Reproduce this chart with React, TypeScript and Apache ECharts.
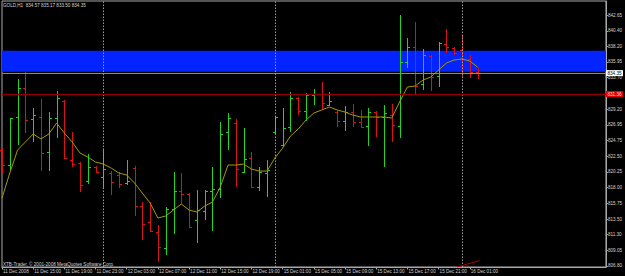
import React, { useEffect, useRef } from "react";
import * as echarts from "echarts";

// ---- Data (GOLD, H1) ----
const opens = [
  823.36, 821.22, 828.08, 832.22, 827.79, 828.08, 823.08, 827.94, 830.36, 821.94,
  821.51, 818.94, 820.94, 819.51, 820.08, 819.79, 818.65, 820.79, 815.36, 813.08,
  811.65, 809.36, 814.94, 817.51, 817.08, 813.36, 814.65, 817.51, 817.79, 825.94,
  827.22, 820.22, 822.22, 818.08, 820.08, 825.94, 824.08, 826.65, 830.79, 828.94,
  831.22, 831.36, 829.79, 828.79, 827.51, 828.79, 827.36, 826.79, 828.79, 828.08,
  828.36, 826.79, 835.94, 838.08, 832.79, 836.79, 833.94, 838.51, 837.94, 837.65,
  836.36, 834.57,
];
const highs = [
  823.79, 827.94, 833.51, 834.51, 829.36, 830.65, 828.79, 831.79, 830.51, 825.94,
  821.65, 822.79, 821.08, 823.51, 820.36, 820.22, 821.94, 821.08, 815.94, 815.94,
  812.65, 815.22, 820.22, 820.08, 817.22, 817.65, 817.65, 820.94, 827.36, 828.65,
  827.79, 826.51, 823.08, 820.94, 821.94, 828.22, 829.36, 831.65, 830.94, 831.51,
  832.08, 833.08, 831.65, 828.94, 829.65, 829.94, 829.08, 829.36, 828.94, 829.79,
  829.94, 842.65, 839.36, 841.65, 837.79, 836.94, 838.79, 840.65, 838.08, 839.65,
  836.94, 835.17,
];
const lows = [
  820.08, 820.51, 824.08, 825.79, 824.51, 820.36, 820.36, 825.08, 822.08, 820.94,
  817.36, 818.51, 820.08, 817.94, 816.94, 817.94, 818.36, 813.94, 810.51, 811.65,
  807.36, 808.36, 811.36, 815.65, 812.22, 810.08, 813.36, 811.79, 816.51, 823.36,
  818.08, 820.08, 817.94, 817.51, 816.65, 825.51, 823.79, 825.94, 828.36, 827.51,
  829.79, 829.22, 829.65, 826.65, 826.08, 826.65, 826.51, 823.94, 825.22, 820.94,
  824.51, 825.08, 835.08, 831.22, 831.94, 831.79, 832.36, 837.22, 836.94, 833.79,
  833.65, 833.5,
];
const closes = [
  821.22, 827.94, 832.22, 827.65, 828.36, 822.94, 827.94, 830.79, 822.22, 821.36,
  818.36, 820.94, 820.22, 820.65, 818.79, 818.51, 818.94, 815.36, 812.79, 811.79,
  809.51, 814.94, 817.51, 817.08, 812.36, 814.79, 817.51, 817.79, 825.65, 827.94,
  820.65, 822.08, 818.08, 820.22, 820.51, 828.08, 826.51, 830.79, 828.94, 831.22,
  831.36, 830.08, 830.36, 827.51, 828.79, 827.36, 826.65, 828.79, 828.08, 828.65,
  826.94, 835.94, 838.08, 832.51, 836.94, 833.79, 838.65, 838.08, 837.22, 836.36,
  834.51, 834.35,
];
const maValues = [
  816.51, 820.08, 823.36, 824.51, 825.65, 824.94, 825.65, 827.22, 825.79, 824.51,
  822.94, 822.36, 821.65, 821.36, 820.79, 820.08, 819.79, 818.65, 817.22, 815.79,
  813.65, 813.94, 814.79, 815.65, 814.79, 814.51, 815.36, 815.94, 818.08, 821.22,
  821.22, 821.36, 820.65, 820.36, 820.36, 822.22, 823.65, 825.36, 826.36, 827.65,
  828.65, 829.08, 829.51, 829.08, 828.79, 828.36, 828.08, 828.08, 828.08, 828.08,
  827.94, 830.22, 832.36, 832.51, 833.36, 833.79, 834.79, 835.79, 836.22, 836.36,
  836.08, 835.22,
];

const timeLabelIdx = [0, 4, 8, 12, 16, 20, 24, 28, 32, 36, 40, 44, 48, 52, 56, 60];
const timeLabels = [
  "11 Dec 2008", "11 Dec 15:00", "11 Dec 19:00", "11 Dec 23:00", "12 Dec 03:00",
  "12 Dec 07:00", "12 Dec 11:00", "12 Dec 15:00", "12 Dec 19:00", "15 Dec 01:00",
  "15 Dec 05:00", "15 Dec 09:00", "15 Dec 13:00", "15 Dec 17:00", "15 Dec 21:00",
  "16 Dec 01:00",
];
const priceTickLabels = [
  "806.80", "809.05", "811.30", "813.50", "815.75", "818.00", "820.25", "822.50",
  "824.75", "826.95", "829.20", "831.45", "833.70", "835.95", "838.20", "840.40", "842.65",
];
const daySeparators = [13, 35, 59];
const bandLow = 834.55;
const bandHigh = 837.55;
const bidPrice = 834.35;
const redLevel = 831.36;
const trendStart = [58.4, 806.66];
const trendEnd = [61.2, 807.56];
const headerText = "GOLD,H1  834.57 835.17 833.50 834.35";
const copyrightText = "XTB-Trader, \u00A9 2001-2008 MetaQuotes Software Corp.";

const GREEN = "#22d422";
const RED = "#d81414";
const AXIS = "#a8a8a8";
const TXT = "#d4d4d4";
const FONT = "Liberation Sans";
const FS = 4.6;

export default function App() {
  const ref = useRef<HTMLDivElement>(null);
  useEffect(() => {
    const chart = echarts.init(ref.current!, null, { renderer: "svg" });
    const ohlc = opens.map((o, i) => [i, o, highs[i], lows[i], closes[i]]);
    const labelMap: Record<number, string> = {};
    timeLabelIdx.forEach((v, k) => (labelMap[v] = timeLabels[k]));
    const yTickVals = priceTickLabels.map(Number);

    chart.setOption({
      animation: false,
      backgroundColor: "#000000",
      textStyle: { fontFamily: FONT },
      title: [
        { text: headerText, left: 3, top: 2.5, padding: 0, textStyle: { color: TXT, fontSize: FS, fontWeight: "normal", fontFamily: FONT } },
        { text: copyrightText, left: 3, top: 261.5, padding: 0, textStyle: { color: TXT, fontSize: FS, fontWeight: "normal", fontFamily: FONT } },
      ],
      grid: { left: 1, right: 18, top: 1, bottom: 9, show: true, borderColor: AXIS, borderWidth: 1, backgroundColor: "transparent" },
      xAxis: {
        type: "value",
        min: 0,
        max: 77.47,
        splitLine: { show: false },
        axisLine: { show: true, onZero: false, lineStyle: { color: AXIS, width: 1 } },
        axisTick: { show: true, customValues: timeLabelIdx, length: 2.5, lineStyle: { color: AXIS } },
        axisLabel: {
          customValues: timeLabelIdx,
          formatter: (v: number) => labelMap[v] ?? "",
          align: "left",
          margin: 1.5,
          padding: [0, 0, 0, 1],
          color: TXT,
          fontSize: FS,
          fontFamily: FONT,
        },
      },
      yAxis: {
        type: "value",
        position: "right",
        min: 806.657,
        max: 844.65,
        splitLine: { show: false },
        axisLine: { show: true, onZero: false, lineStyle: { color: AXIS, width: 1 } },
        axisTick: { show: true, customValues: yTickVals, length: 2, lineStyle: { color: AXIS } },
        axisLabel: {
          customValues: yTickVals,
          formatter: (v: number) => v.toFixed(2),
          margin: 2,
          color: TXT,
          fontSize: FS,
          fontFamily: FONT,
        },
      },
      series: [
        {
          type: "line",
          data: [],
          z: 0,
          silent: true,
          markArea: {
            silent: true,
            itemStyle: { color: "#0424ff", opacity: 1 },
            data: [[{ yAxis: bandLow }, { yAxis: bandHigh }]],
          },
        },
        {
          type: "line",
          data: [],
          z: 1,
          silent: true,
          markLine: {
            silent: true,
            symbol: "none",
            data: [
              ...daySeparators.map((x) => ({
                xAxis: x,
                lineStyle: { color: "#9a9a9a", type: [1.5, 1.5], width: 1 },
                label: { show: false },
              })),
              {
                yAxis: bidPrice,
                lineStyle: { color: "#8a8a8a", type: "solid", width: 1 },
                label: {
                  show: true,
                  position: "end",
                  distance: 0,
                  formatter: bidPrice.toFixed(2),
                  backgroundColor: "#ffffff",
                  color: "#000000",
                  fontSize: FS,
                  fontFamily: FONT,
                  padding: [0.5, 1.5, 0.5, 1.5],
                },
              },
              {
                yAxis: redLevel,
                lineStyle: { color: "#8c0000", type: "solid", width: 1.4 },
                label: {
                  show: true,
                  position: "end",
                  distance: 0,
                  formatter: redLevel.toFixed(2),
                  backgroundColor: "#e00000",
                  color: "#ffd0d0",
                  fontSize: FS,
                  fontFamily: FONT,
                  padding: [0.5, 1.5, 0.5, 1.5],
                },
              },
              [
                { coord: trendStart, lineStyle: { color: "#b00000", type: "solid", width: 1 }, label: { show: false } },
                { coord: trendEnd },
              ],
            ],
          },
        },
        {
          type: "custom",
          z: 3,
          data: ohlc,
          encode: { x: 0, y: [1, 2, 3, 4] },
          renderItem: (params: any, api: any) => {
            const i = api.value(0);
            const o = api.value(1);
            const h = api.value(2);
            const l = api.value(3);
            const c = api.value(4);
            const pH = api.coord([i, h]);
            const pL = api.coord([i, l]);
            const pO = api.coord([i, o]);
            const pC = api.coord([i, c]);
            const color = c >= o ? GREEN : RED;
            const x = Math.round(pH[0]) + 0.5;
            const st = { stroke: color, lineWidth: 1 };
            return {
              type: "group",
              children: [
                { type: "line", shape: { x1: x, y1: pH[1], x2: x, y2: pL[1] }, style: st },
                { type: "line", shape: { x1: x - 2.5, y1: Math.round(pO[1]) + 0.5, x2: x, y2: Math.round(pO[1]) + 0.5 }, style: st },
                { type: "line", shape: { x1: x, y1: Math.round(pC[1]) + 0.5, x2: x + 2.5, y2: Math.round(pC[1]) + 0.5 }, style: st },
              ],
            };
          },
        },
        {
          type: "line",
          z: 4,
          data: maValues.map((v, i) => [i, v]),
          showSymbol: false,
          symbol: "none",
          lineStyle: { color: "#a49a00", width: 1 },
        },
      ],
    });
    return () => chart.dispose();
  }, []);
  return (
    <div
      ref={ref}
      style={{ position: "absolute", left: 0, top: 0, width: 625, height: 276, background: "#000" }}
    />
  );
}
